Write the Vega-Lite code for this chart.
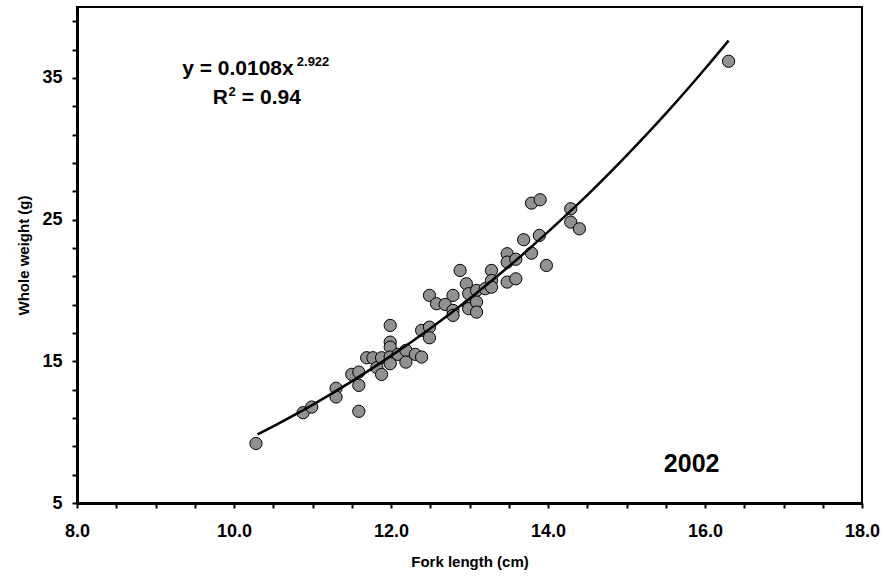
{
  "$schema": "https://vega.github.io/schema/vega-lite/v6.json",
  "width": 785,
  "height": 496,
  "autosize": {"type": "none"},
  "padding": {"left": 77, "top": 7, "right": 22, "bottom": 76},
  "background": "white",
  "config": {
    "font": "Liberation Sans",
    "view": {"stroke": "black", "strokeWidth": 2},
    "axis": {
      "grid": false,
      "domainColor": "black",
      "domainWidth": 3,
      "tickColor": "black",
      "tickWidth": 2,
      "tickSize": 5,
      "labelColor": "black",
      "labelFont": "Liberation Sans",
      "labelFontWeight": "bold",
      "labelFontSize": 18,
      "titleColor": "black",
      "titleFont": "Liberation Sans",
      "titleFontWeight": "bold",
      "titleFontSize": 15
    }
  },
  "datasets": {
    "fish": [
      {"fl": 10.28, "w": 9.2}, {"fl": 10.88, "w": 11.37}, {"fl": 10.99, "w": 11.77},
      {"fl": 11.3, "w": 13.1}, {"fl": 11.3, "w": 12.48}, {"fl": 11.5, "w": 14.08},
      {"fl": 11.59, "w": 14.24}, {"fl": 11.59, "w": 13.3}, {"fl": 11.59, "w": 11.47},
      {"fl": 11.69, "w": 15.25}, {"fl": 11.77, "w": 15.25}, {"fl": 11.82, "w": 14.55},
      {"fl": 11.88, "w": 15.25}, {"fl": 11.88, "w": 14.07}, {"fl": 11.99, "w": 17.53},
      {"fl": 11.99, "w": 16.35}, {"fl": 11.99, "w": 16.0}, {"fl": 11.99, "w": 15.3},
      {"fl": 11.99, "w": 14.83}, {"fl": 12.09, "w": 15.49}, {"fl": 12.19, "w": 15.77},
      {"fl": 12.19, "w": 14.94}, {"fl": 12.31, "w": 15.49}, {"fl": 12.39, "w": 15.3},
      {"fl": 12.39, "w": 17.18}, {"fl": 12.49, "w": 17.41}, {"fl": 12.49, "w": 16.66},
      {"fl": 12.49, "w": 19.65}, {"fl": 12.58, "w": 19.06}, {"fl": 12.69, "w": 19.01},
      {"fl": 12.79, "w": 19.65}, {"fl": 12.79, "w": 18.59}, {"fl": 12.79, "w": 18.24},
      {"fl": 12.88, "w": 21.41}, {"fl": 12.96, "w": 20.47}, {"fl": 12.99, "w": 19.77},
      {"fl": 12.99, "w": 18.94}, {"fl": 12.99, "w": 18.71}, {"fl": 13.09, "w": 20.0},
      {"fl": 13.09, "w": 19.18}, {"fl": 13.09, "w": 18.47}, {"fl": 13.2, "w": 20.12},
      {"fl": 13.28, "w": 21.41}, {"fl": 13.28, "w": 20.7}, {"fl": 13.28, "w": 20.23},
      {"fl": 13.48, "w": 22.59}, {"fl": 13.48, "w": 22.0}, {"fl": 13.48, "w": 20.59},
      {"fl": 13.59, "w": 20.82}, {"fl": 13.59, "w": 22.2}, {"fl": 13.69, "w": 23.58},
      {"fl": 13.79, "w": 22.63}, {"fl": 13.79, "w": 26.16}, {"fl": 13.89, "w": 23.88},
      {"fl": 13.9, "w": 26.4}, {"fl": 13.98, "w": 21.76}, {"fl": 14.29, "w": 25.76},
      {"fl": 14.29, "w": 24.82}, {"fl": 14.4, "w": 24.35}, {"fl": 16.3, "w": 36.17}
    ],
    "fit": [
      {"fl": 10.3, "w": 9.84}, {"fl": 10.5, "w": 10.41}, {"fl": 11.0, "w": 11.92},
      {"fl": 11.5, "w": 13.58}, {"fl": 12.0, "w": 15.38}, {"fl": 12.5, "w": 17.32},
      {"fl": 13.0, "w": 19.42}, {"fl": 13.5, "w": 21.69}, {"fl": 14.0, "w": 24.13},
      {"fl": 14.5, "w": 26.72}, {"fl": 15.0, "w": 29.51}, {"fl": 15.5, "w": 32.47},
      {"fl": 16.0, "w": 35.64}, {"fl": 16.3, "w": 37.63}
    ]
  },
  "layer": [
    {
      "data": {"name": "fish"},
      "mark": {"type": "point", "filled": true, "size": 150, "fill": "#919191", "stroke": "black", "strokeWidth": 1, "opacity": 1},
      "encoding": {
        "x": {
          "field": "fl", "type": "quantitative",
          "scale": {"domain": [8, 18], "nice": false, "zero": false},
          "axis": {
            "title": "Fork length (cm)",
            "values": [8, 8.5, 9, 9.5, 10, 10.5, 11, 11.5, 12, 12.5, 13, 13.5, 14, 14.5, 15, 15.5, 16, 16.5, 17, 17.5, 18],
            "tickCount": 200,
            "labelExpr": "datum.value % 2 == 0 ? format(datum.value, '.1f') : ''",
            "labelFontSize": {"condition": {"test": "datum.value % 2 == 0", "value": 18}, "value": 0.1},
            "labelOverlap": false,
            "labelPadding": 14,
            "titlePadding": 14,
            "labelFlush": false
          }
        },
        "y": {
          "field": "w", "type": "quantitative",
          "scale": {"domain": [5, 40], "nice": false, "zero": false},
          "axis": {
            "title": "Whole weight (g)",
            "values": [5, 7, 9, 11, 13, 15, 17, 19, 21, 23, 25, 27, 29, 31, 33, 35, 37, 39],
            "tickCount": 200,
            "labelExpr": "(datum.value - 5) % 10 == 0 ? format(datum.value, 'd') : ''",
            "labelFontSize": {"condition": {"test": "(datum.value - 5) % 10 == 0", "value": 18}, "value": 0.1},
            "labelOverlap": false,
            "labelPadding": 10,
            "titlePadding": 10,
            "labelFlush": false
          }
        }
      }
    },
    {
      "data": {"name": "fit"},
      "mark": {"type": "line", "color": "black", "strokeWidth": 2.5, "interpolate": "monotone"},
      "encoding": {
        "x": {"field": "fl", "type": "quantitative"},
        "y": {"field": "w", "type": "quantitative"}
      }
    },
    {
      "data": {"values": [{"x": 9.34, "y": 35.2, "t": "y = 0.0108x"}, {"x": 9.73, "y": 33.12, "t": "R"}, {"x": 10.1, "y": 33.12, "t": "= 0.94"}]},
      "mark": {"type": "text", "align": "left", "baseline": "alphabetic", "fontSize": 21, "fontWeight": "bold", "font": "Liberation Sans", "color": "black"},
      "encoding": {
        "x": {"field": "x", "type": "quantitative"},
        "y": {"field": "y", "type": "quantitative"},
        "text": {"field": "t"}
      }
    },
    {
      "data": {"values": [{"x": 10.8, "y": 35.85, "t": "2.922"}, {"x": 9.93, "y": 33.75, "t": "2"}]},
      "mark": {"type": "text", "align": "left", "baseline": "alphabetic", "fontSize": 13, "fontWeight": "bold", "font": "Liberation Sans", "color": "black"},
      "encoding": {
        "x": {"field": "x", "type": "quantitative"},
        "y": {"field": "y", "type": "quantitative"},
        "text": {"field": "t"}
      }
    },
    {
      "data": {"values": [{"x": 15.83, "y": 7.2, "t": "2002"}]},
      "mark": {"type": "text", "align": "center", "baseline": "alphabetic", "fontSize": 25, "fontWeight": "bold", "font": "Liberation Sans", "color": "black"},
      "encoding": {
        "x": {"field": "x", "type": "quantitative"},
        "y": {"field": "y", "type": "quantitative"},
        "text": {"field": "t"}
      }
    }
  ]
}
